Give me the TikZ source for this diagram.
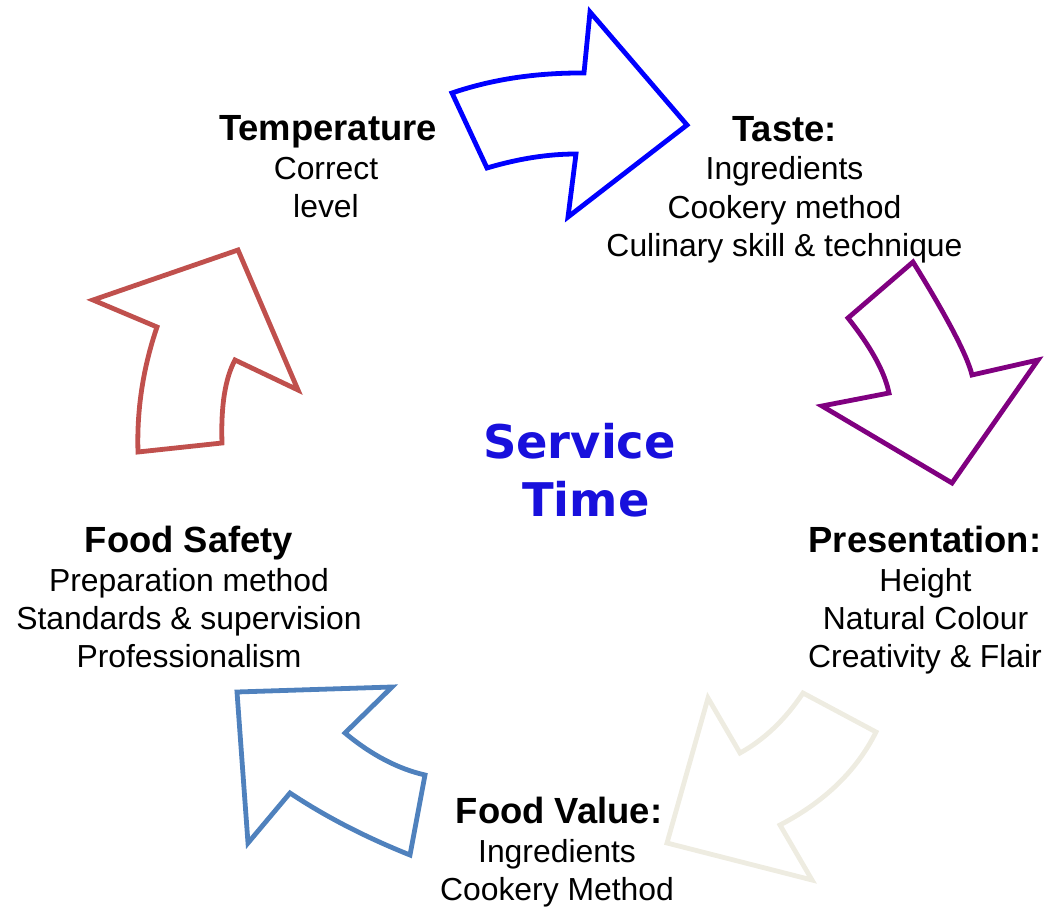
\documentclass[tikz,border=0pt]{standalone}
\usepackage{fontspec}
\setmainfont{Liberation Sans}
\newfontfamily\titlefont{DejaVu Sans}
\definecolor{arrowblue}{HTML}{0000FF}
\definecolor{arrowpurple}{HTML}{800080}
\definecolor{arrowbeige}{HTML}{EEECE1}
\definecolor{arrowsteel}{HTML}{4F81BD}
\definecolor{arrowred}{HTML}{C0504D}
\definecolor{centreblue}{HTML}{1810DC}
\begin{document}
\begin{tikzpicture}[x=0.75pt,y=-0.75pt,
  blockarrow/.style={line width=3.6pt, line join=miter, miter limit=10},
  head/.style={anchor=base, inner sep=0pt, font=\fontsize{27.3}{32}\selectfont\bfseries},
  item/.style={anchor=base, inner sep=0pt, font=\fontsize{23.9}{29}\selectfont},
  centre/.style={anchor=base, inner sep=0pt, text=centreblue,
    font=\titlefont\fontsize{34.8}{40}\selectfont\bfseries}]
\useasboundingbox (0,0) rectangle (1058,909);

% curved block arrows around the cycle
\draw[blockarrow, arrowblue] (584,73) .. controls (536,72.7) and (492,79.3) .. (452,93)
  -- (487,168) .. controls (518.3,158.7) and (548,154) .. (576,154)
  -- (568,217) -- (687,125) -- (590,12) -- cycle;

\draw[blockarrow, arrowpurple] (972,375) .. controls (967.3,355.7) and (947.7,318) .. (913,262)
  -- (848,318) .. controls (870.7,346.7) and (884.7,371.7) .. (889,393)
  -- (822,406) -- (952,483) -- (1038,360) -- cycle;

\draw[blockarrow, arrowbeige] (740,753) .. controls (764.2,739.7) and (785.2,719.7) .. (803,693)
  -- (876,732) .. controls (856.7,770.7) and (824.7,801.7) .. (780,825)
  -- (812,880) -- (667,843) -- (708,698) -- cycle;

\draw[blockarrow, arrowsteel] (345,733) .. controls (371.2,754.8) and (397.9,768.8) .. (425,775)
  -- (410,855) .. controls (365,837) and (325,816.3) .. (290,793)
  -- (248,843) -- (237,692) -- (392,687) -- cycle;

\draw[blockarrow, arrowred] (235,360) .. controls (225.1,378.4) and (220.8,406) .. (222,443)
  -- (138,452) .. controls (136.7,410.7) and (142.7,369) .. (157,327)
  -- (93,300) -- (238,250) -- (298,390) -- cycle;

% centre title
\node[centre] (service) at (579.5,459) {Service};
\node[centre] (time) at (586,517) {Time};

% temperature
\node[head] (temp) at (328,141) {Temperature};
\node[item] (temp1) at (326,180) {Correct};
\node[item] (temp2) at (326,218) {level};

% taste
\node[head] (taste) at (784.5,142) {Taste:};
\node[item] (taste1) at (784.5,180) {Ingredients};
\node[item] (taste2) at (784.5,219) {Cookery method};
\node[item] (taste3) at (784.5,257) {Culinary skill \& technique};

% presentation
\node[head] (pres) at (925,552) {Presentation:};
\node[item] (pres1) at (925.5,591) {Height};
\node[item] (pres2) at (925.5,629) {Natural Colour};
\node[item] (pres3) at (925,667) {Creativity \& Flair};

% food value
\node[head] (value) at (559,823) {Food Value:};
\node[item] (value1) at (557,862) {Ingredients};
\node[item] (value2) at (557,900) {Cookery Method};

% food safety
\node[head] (safety) at (189,552) {Food Safety};
\node[item] (safety1) at (189,591) {Preparation method};
\node[item] (safety2) at (189,629) {Standards \& supervision};
\node[item] (safety3) at (189,667) {Professionalism};
\end{tikzpicture}
\end{document}
